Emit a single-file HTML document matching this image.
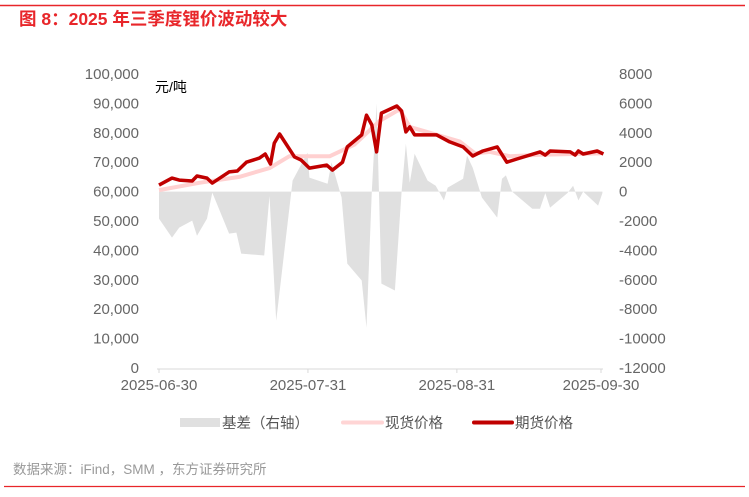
<!DOCTYPE html>
<html><head><meta charset="utf-8"><style>
body{margin:0;background:#fff;}
svg text{font-family:"Liberation Sans","Noto Sans CJK SC",sans-serif;}
</style></head><body>
<svg id="chart" width="749" height="492" xmlns="http://www.w3.org/2000/svg">
<line x1="0" y1="5.5" x2="745" y2="5.5" stroke="#e8262a" stroke-width="1.5"/>
<text x="19" y="25" fill="#e8262a" font-size="17.5" font-weight="bold">图 8：2025 年三季度锂价波动较大</text>
<text x="155" y="92" font-size="14" fill="#000">元/吨</text>
<g id="basis"></g><g id="axes"></g><g id="lines"></g>
<g>
<rect x="180" y="418" width="40" height="9" fill="#e0e0e0"/>
<text x="222" y="428" font-size="14.5" fill="#555">基差（右轴）</text>
<line x1="343" y1="422.5" x2="382" y2="422.5" stroke="#ffd5d5" stroke-width="4" stroke-linecap="round"/>
<text x="385" y="428" font-size="14.5" fill="#555">现货价格</text>
<line x1="474" y1="422.5" x2="512" y2="422.5" stroke="#c00000" stroke-width="4" stroke-linecap="round"/>
<text x="515" y="428" font-size="14.5" fill="#555">期货价格</text>
</g>
<text x="13" y="474" font-size="13.5" fill="#999">数据来源：iFind，SMM ，东方证券研究所</text>
<line x1="4" y1="486.5" x2="745" y2="486.5" stroke="#e8262a" stroke-width="1.2"/>
</svg>
<script>
const futDays=[0,2.7,4.2,6.9,7.9,10,11.1,14.6,16.3,18.2,20.9,22.1,23.2,24,25.1,28.2,29.6,31.3,34.9,36.1,38.2,39.2,42.2,43.2,44.3,45.3,46.3,49.5,50.5,51.4,52.2,53.2,57.8,60.5,63.3,65.3,67.4,70.4,72.4,74.5,79.3,80.4,81.4,85.6,86.6,87.3,88.3,91.2,92.5];
const futVals=[62200,64600,63900,63600,65300,64600,62900,66700,67000,70000,71400,72800,69400,76500,79600,71800,70700,68000,69000,67300,70000,75200,79300,86000,82700,73500,86700,89100,87400,80300,82000,79300,79300,76900,75200,72100,73800,75200,70000,71100,73500,72400,73800,73500,72400,73800,72800,73800,72800];
const spotDays=[0,8.4,16.7,23,27.1,35.5,40.7,45.9,50.1,52.2,56.4,62.6,65.8,68.9,73.1,79.3,91.9];
const spotVals=[60500,63000,65000,68000,72000,72000,76000,84000,88000,82000,80000,77000,73000,73500,72000,72500,73000];
const basisDays=[0,2.7,4.2,6.9,7.9,10,11.1,14.6,16.1,17.1,21.9,23,24.4,27.8,30.9,31.3,35.1,35.9,38,39.2,42.2,43.2,44.3,45.3,46.3,49.1,50.5,51.4,52.2,53.2,55.9,57.6,59.3,60.1,63.3,64.1,65.3,67.2,70.4,71.4,72.2,73.5,77.7,79.3,80.4,81.4,85,86.2,87.3,88.3,91.4,92.3];
const basisVals=[-1840,-3130,-2450,-1970,-3000,-1840,-70,-2860,-2790,-4220,-4350,-300,-8780,750,2650,950,540,2000,-400,-4900,-6050,-9250,0,6000,-6260,-6730,0,3260,600,2580,750,400,-600,270,880,2450,1630,-400,-1770,880,1100,0,-1160,-1160,-100,-1090,-100,400,-600,0,-950,-100];
const leftTicks=[0,10000,20000,30000,40000,50000,60000,70000,80000,90000,100000];
const rightTicks=[-12000,-10000,-8000,-6000,-4000,-2000,0,2000,4000,6000,8000];
const xTickDays=[0,31,62,92];
const xTickLabels=["2025-06-30","2025-07-31","2025-08-31","2025-09-30"];

const NS="http://www.w3.org/2000/svg";
const X0=159,X1=601,DMAX=92,YT=74,YB=368;
const x=d=>X0+(X1-X0)*d/DMAX;
const yL=v=>YB-(YB-YT)*v/100000;
const yR=v=>YB-(YB-YT)*(v+12000)/20000;
function mk(tag,attrs,parent){const e=document.createElementNS(NS,tag);for(const k in attrs)e.setAttribute(k,attrs[k]);parent.appendChild(e);return e;}
const axes=document.getElementById('axes');
leftTicks.forEach(v=>{
 const t=mk('text',{x:139,y:yL(v)+5,'text-anchor':'end','font-size':15,fill:'#666'},axes);
 t.textContent=v.toLocaleString('en-US');
 
 
});
rightTicks.forEach(v=>{
 const t=mk('text',{x:619,y:yR(v)+5,'font-size':15,fill:'#666'},axes);
 t.textContent=String(v);
 
 
});
const ax=mk('line',{x1:X0-2,x2:X1+2,y1:YB+1,y2:YB+1,stroke:'#d9d9d9','stroke-width':1},axes);


xTickDays.forEach((d,i)=>{
 const tk=mk('line',{x1:x(d),x2:x(d),y1:YB+1,y2:YB+5,stroke:'#d9d9d9'},axes);
 
 
 const t=mk('text',{x:x(d),y:YB+22,'text-anchor':'middle','font-size':15,fill:'#666'},axes);
 t.textContent=xTickLabels[i];
 
 
});
let p='M'+x(basisDays[0])+','+yR(0);
basisDays.forEach((d,i)=>{p+=' L'+x(d).toFixed(1)+','+yR(basisVals[i]).toFixed(1);});
p+=' L'+x(basisDays[basisDays.length-1])+','+yR(0)+' Z';
const area=mk('path',{d:p,fill:'#e0e0e0'},document.getElementById('basis'));


const lines=document.getElementById('lines');
const sp=mk('polyline',{points:spotDays.map((d,i)=>x(d).toFixed(1)+','+yL(spotVals[i]).toFixed(1)).join(' '),fill:'none',stroke:'#ffd0d0','stroke-width':4,'stroke-linejoin':'round'},lines);


const fu=mk('polyline',{points:futDays.map((d,i)=>x(d).toFixed(1)+','+yL(futVals[i]).toFixed(1)).join(' '),fill:'none',stroke:'#c00000','stroke-width':3.5,'stroke-linejoin':'round'},lines);


</script>
</body></html>
